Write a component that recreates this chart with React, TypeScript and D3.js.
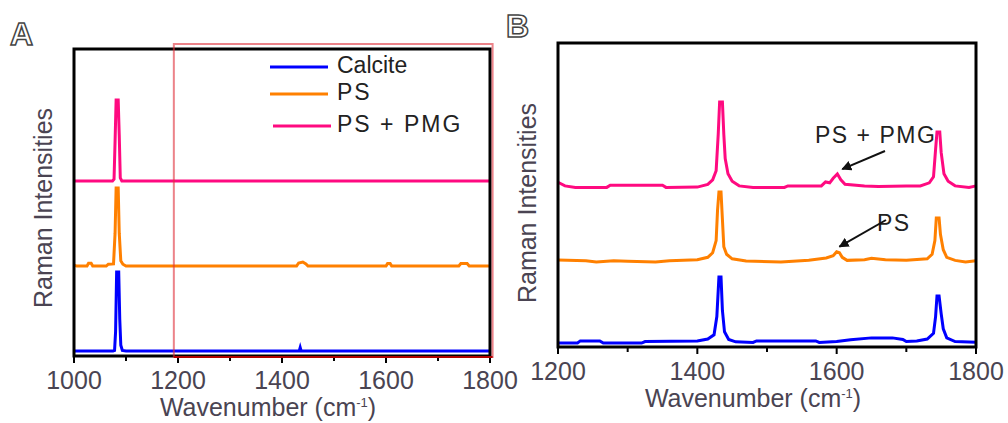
import React from "react";
import * as d3 from "d3";

type Pt = [number, number];

// Panel A (1000–1800 cm-1), offset intensities (a.u.)
const calciteA: Pt[] = [[1000,1.6],[1075,1.6],[1078,1.8],[1080,8],[1082,27.4],[1086,27.4],[1088,12],[1090,3.5],[1093,1.8],[1100,1.6],[1433,1.6],[1435,2.8],[1437,1.6],[1800,1.6]];
const psA: Pt[] = [[1000,29.6],[1005,29.3],[1025,29.3],[1028,30.2],[1033,30.2],[1036,29.3],[1062,29.3],[1066,29.9],[1076,30],[1079,40],[1081,54.7],[1085,54.7],[1087,40],[1090,31],[1094,29.9],[1100,29.3],[1428,29.3],[1432,30.3],[1440,30.6],[1446,30],[1450,29.3],[1600,29.3],[1603,30.1],[1608,30.1],[1611,29.3],[1740,29.3],[1744,30.1],[1756,30.1],[1760,29.3],[1800,29.3]];
const pmgA: Pt[] = [[1000,57],[1074,57],[1077,57.6],[1079,70],[1081,83.4],[1085,83.4],[1087,72],[1089,58],[1092,57],[1800,57]];

// Panel B (1200–1800 cm-1)
const calciteB: Pt[] = [[1200,1.3],[1228,1.3],[1232,2],[1260,2],[1265,1.3],[1320,1.3],[1325,1.8],[1400,2],[1415,2.6],[1424,4],[1428,10],[1431,23],[1434,23],[1436,12],[1439,5],[1445,2.5],[1455,1.7],[1480,1.5],[1485,2],[1570,2],[1575,1.5],[1600,1.8],[1620,2.4],[1650,3],[1680,3],[1695,2.5],[1700,1.8],[1715,2],[1730,2.6],[1739,4.5],[1742,10],[1744,16.8],[1747,16.8],[1750,11],[1753,6],[1758,3],[1770,1.8],[1800,1.6]];
const psB: Pt[] = [[1200,28.6],[1240,28.4],[1255,28],[1280,28.4],[1300,28.2],[1340,28],[1360,28.4],[1400,28.7],[1415,29.5],[1422,31],[1427,35],[1429,45],[1431,51],[1434,51],[1436,42],[1438,33],[1442,30.5],[1450,29],[1470,28.3],[1520,28],[1560,28.5],[1585,29.3],[1595,30],[1600,31.3],[1604,31],[1608,29.5],[1615,28.5],[1640,28.7],[1650,29.2],[1670,28.7],[1700,28.5],[1730,29],[1737,30.5],[1741,35],[1743,42.4],[1747,42.4],[1749,37],[1753,32],[1758,29.5],[1770,28.5],[1785,28],[1800,28.4]];
const pmgB: Pt[] = [[1200,54.2],[1210,53],[1225,52.5],[1270,52.5],[1275,53.2],[1350,53.2],[1355,52.5],[1400,52.6],[1415,53.5],[1422,55],[1427,58],[1430,70],[1432,80.6],[1436,80.6],[1438,70],[1440,62],[1444,57],[1450,54.5],[1460,53],[1480,52.5],[1525,52.5],[1530,53],[1578,53],[1584,54.3],[1590,54],[1595,55.5],[1601,56.9],[1606,55],[1612,53.5],[1640,53],[1660,52.8],[1700,53],[1720,53],[1733,54],[1739,56],[1742,65],[1744,70.7],[1748,70.7],[1750,64],[1754,57],[1760,54.5],[1770,53],[1790,52.5],[1800,53]];

const seriesNames = ["Calcite", "PS", "PS + PMG"];
const seriesColors = ["#0000ff", "#ff8000", "#ff0a80"];
const ticksA = [1000, 1200, 1400, 1600, 1800];
const ticksB = [1200, 1400, 1600, 1800];

const textCol = "#4a4452";

function Panel({ x0, x1, y0, y1, domain, ticks, minor, data, lw }: any) {
  const xs = d3.scaleLinear().domain(domain).range([x0, x1]);
  const ys = d3.scaleLinear().domain([0, 100]).range([y1, y0]);
  const line = d3.line<Pt>().x((d) => xs(d[0])).y((d) => ys(d[1]));
  return (
    <g>
      {data.map((s: Pt[], i: number) => (
        <path key={i} d={line(s) || ""} fill="none" stroke={seriesColors[i]} strokeWidth={lw} strokeLinejoin="miter" />
      ))}
      <rect x={x0} y={y0} width={x1 - x0} height={y1 - y0} fill="none" stroke="#000" strokeWidth={3} />
      {minor.map((t: number) => (
        <line key={"m" + t} x1={xs(t)} x2={xs(t)} y1={y1} y2={y1 + 5} stroke="#000" strokeWidth={2} />
      ))}
      {ticks.map((t: number) => (
        <g key={t}>
          <line x1={xs(t)} x2={xs(t)} y1={y1} y2={y1 + 7} stroke="#000" strokeWidth={2} />
          <text x={xs(t)} y={y1 + 33} textAnchor="middle" fontSize={25} fill={textCol}>{t}</text>
        </g>
      ))}
      <text x={(x0 + x1) / 2 - 14} y={y1 + 60} textAnchor="middle" fontSize={25} fill={textCol}>
        Wavenumber (cm<tspan dy={-9} fontSize={13}>-1</tspan><tspan dy={9}>)</tspan>
      </text>
    </g>
  );
}

export default function App() {
  const font = "Liberation Sans, Arial, sans-serif";
  const xA = d3.scaleLinear().domain([1000, 1800]).range([74, 490]);
  const minorA = d3.range(1100, 1800, 200);
  const minorB = d3.range(1300, 1800, 200);
  const xB = d3.scaleLinear().domain([1200, 1800]).range([558, 976]);
  const yB = d3.scaleLinear().domain([0, 100]).range([347, 43]);
  return (
    <svg width={1008} height={423} style={{ display: "block", position: "absolute", left: 0, top: 0 }} fontFamily={font}>
      <rect width={1008} height={423} fill="#fff" />
      {/* Panel A */}
      <Panel x0={74} x1={490} y0={49} y1={356} domain={[1000, 1800]} ticks={ticksA} minor={minorA} data={[calciteA, psA, pmgA]} lw={3} />
      <rect x={xA(1192)} y={44} width={xA(1805) - xA(1192)} height={313} fill="none" stroke="#e0303a" strokeOpacity={0.6} strokeWidth={2} />
      <line x1={xA(1192)} x2={xA(1805)} y1={357} y2={357} stroke="#b00000" strokeWidth={2} />
      <text x={45} y={208} transform="rotate(-90 45 208)" textAnchor="middle" dominantBaseline="middle" fontSize={25} fill={textCol}>Raman Intensities</text>
      <text x={10} y={45} fontSize={32} fontWeight="bold" fill="#fff" stroke="#444" strokeWidth={1.5}>A</text>
      {seriesNames.map((n, i) => (
        <g key={n}>
          <line x1={270 + (i === 2 ? 3 : 0)} x2={328 + (i === 2 ? 3 : 0)} y1={[67, 94, 126][i]} y2={[67, 94, 126][i]} stroke={seriesColors[i]} strokeWidth={3} />
          <text x={337} y={[67, 94, 126][i]} dominantBaseline="middle" fontSize={23} fill="#222" letterSpacing={i === 0 ? 0 : 2}>{n}</text>
        </g>
      ))}
      {/* Panel B */}
      <Panel x0={558} x1={976} y0={43} y1={347} domain={[1200, 1800]} ticks={ticksB} minor={minorB} data={[calciteB, psB, pmgB]} lw={3} />
      <text x={529} y={203} transform="rotate(-90 529 203)" textAnchor="middle" dominantBaseline="middle" fontSize={25} fill={textCol}>Raman Intensities</text>
      <text x={506} y={37} fontSize={32} fontWeight="bold" fill="#fff" stroke="#444" strokeWidth={1.5}>B</text>
      <text x={815} y={137} dominantBaseline="middle" fontSize={23} fill="#222" letterSpacing={1.5}>PS + PMG</text>
      <text x={877} y={225} dominantBaseline="middle" fontSize={23} fill="#222" letterSpacing={1.5}>PS</text>
      <defs>
        <marker id="ah" viewBox="0 0 10 10" refX={9} refY={5} markerWidth={5} markerHeight={5} orient="auto">
          <path d="M0,0 L10,5 L0,10 z" fill="#111" />
        </marker>
      </defs>
      <line x1={885} y1={151} x2={xB(1608)} y2={yB(58.5)} stroke="#111" strokeWidth={2} markerEnd="url(#ah)" />
      <line x1={886} y1={220} x2={xB(1604)} y2={yB(33)} stroke="#111" strokeWidth={2} markerEnd="url(#ah)" />
    </svg>
  );
}
